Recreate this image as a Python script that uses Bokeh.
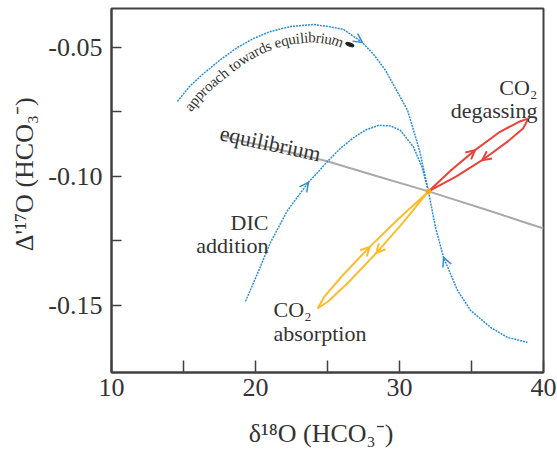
import math
from bokeh.plotting import figure
from bokeh.models import Range1d, FixedTicker, Arrow, OpenHead
from bokeh.core.properties import value
from bokeh.embed import file_html
from bokeh.resources import INLINE

# ---------------- data ----------------
x_major_ticks = [10, 20, 30, 40]
x_minor_ticks = [15, 25, 35]
y_major_ticks = [-0.15, -0.10, -0.05]
y_minor_ticks = [-0.125, -0.075]
y_tick_labels = ["-0.15", "-0.10", "-0.05"]

# equilibrium line
eq_x = [17.69, 21.04, 24.98, 28.51, 32.01, 35.97, 40.0]
eq_y = [-0.0845, -0.0888, -0.0941, -0.1000, -0.1058, -0.1128, -0.1202]

# approach towards equilibrium (upper dotted arc and lower right branch)
approach_x = [14.58, 15.42, 16.39, 17.57, 18.75, 19.86, 21.04, 22.43, 24.03, 25.07,
              26.11, 27.43, 28.26, 29.03, 30.56, 31.39, 32.01, 32.50, 33.06, 34.03,
              34.93, 36.32, 37.50, 38.89]
approach_y = [-0.0709, -0.0651, -0.0601, -0.0547, -0.0500, -0.0465, -0.0438, -0.0419, -0.0411, -0.0419,
              -0.0430, -0.0481, -0.0531, -0.0589, -0.0744, -0.0899, -0.1058, -0.1198, -0.1314, -0.1442,
              -0.1519, -0.1585, -0.1624, -0.1643]

# DIC addition arc
dic_x = [19.31, 20.14, 21.04, 22.22, 23.68, 25.07, 25.90, 26.74, 27.64, 28.54, 29.38, 30.07,
         30.97, 31.56, 32.01]
dic_y = [-0.1484, -0.1376, -0.1256, -0.1132, -0.1023, -0.0938, -0.0891, -0.0853, -0.0820, -0.0802,
         -0.0804, -0.0822, -0.0886, -0.0963, -0.1058]

# CO2 degassing loop
degas_x = [32.01, 33.60, 35.25, 36.98, 38.26, 38.96, 38.58, 37.48, 35.74, 33.92, 32.01]
degas_y = [-0.1058, -0.0975, -0.0898, -0.0827, -0.0789, -0.0775, -0.0814, -0.0866, -0.0937, -0.1001, -0.1058]

# CO2 absorption loop
absorb_x = [32.01, 30.24, 28.39, 26.46, 25.08, 24.31, 24.77, 26.01, 27.93, 29.94, 32.01]
absorb_y = [-0.1058, -0.1179, -0.1297, -0.1410, -0.1483, -0.1512, -0.1467, -0.1386, -0.1273, -0.1164, -0.1058]

# arrows: (curve, from index, to index)
arrow_specs = [("approach", 10, 11), ("approach", 19, 18), ("dic", 3, 4),
               ("degas", 1, 2), ("degas", 7, 8), ("absorb", 7, 8), ("absorb", 1, 2)]

# text labels
labels_text = ["equilibrium", "CO\u2082", "degassing", "DIC", "addition", "CO\u2082", "absorption"]
labels_x = [21.04, 39.58, 39.58, 20.90, 20.90, 21.25, 21.25]
labels_y = [-0.0872, -0.0655, -0.0744, -0.1178, -0.1267, -0.1516, -0.1608]
labels_align = ["center", "right", "right", "right", "right", "left", "left"]
labels_angle = [-0.21, 0, 0, 0, 0, 0, 0]

curved_text = "approach towards equilibrium"
blob_x = [26.55]
blob_y = [-0.0489]

x_title = "\u03b4\u00b9\u2078O (HCO\u2083\u207b)"
y_title = "\u0394'\u00b9\u2077O (HCO\u2083\u207b)"

# ---------------- layout ----------------
FW, FH = 557, 452
L, R, T, B = 111, 14, 8, 80
W = FW - L - R
H = FH - T - B
X0, X1 = 10, 40
Y0, Y1 = -0.1760, -0.0349

BLUE = "#2a8ed6"
RED = "#e8443a"
YEL = "#fbbd2e"
GRAY = "#a9a9a9"
TXT = "#333333"
FONT = "Liberation Serif"
NB = "\u00a0"

p = figure(width=FW, height=FH, output_backend="svg", toolbar_location=None,
           x_range=Range1d(X0, X1), y_range=Range1d(Y0, Y1),
           min_border_left=L, min_border_right=R, min_border_top=T, min_border_bottom=B)
p.xgrid.visible = False
p.ygrid.visible = False
p.outline_line_color = "#404040"
p.outline_line_width = 2
p.background_fill_color = "white"
p.border_fill_color = "white"

for ax in (p.xaxis[0], p.yaxis[0]):
    ax.axis_line_color = "#404040"
    ax.axis_line_width = 2
    ax.major_tick_line_color = "#404040"
    ax.minor_tick_line_color = "#404040"
    ax.major_tick_line_width = 1.5
    ax.minor_tick_line_width = 1.5
    ax.major_tick_out = 0
    ax.minor_tick_out = 0
    ax.major_label_text_font = FONT
    ax.major_label_text_font_size = "26px"
    ax.major_label_text_color = TXT
    ax.axis_label_text_font = FONT
    ax.axis_label_text_font_size = "26px"
    ax.axis_label_text_font_style = "normal"
    ax.axis_label_text_color = TXT

p.xaxis.ticker = FixedTicker(ticks=x_major_ticks, minor_ticks=x_minor_ticks)
p.yaxis.ticker = FixedTicker(ticks=y_major_ticks, minor_ticks=y_minor_ticks)
p.yaxis.major_label_overrides = {t: s for t, s in zip(y_major_ticks, y_tick_labels)}
p.xaxis.major_tick_in = 12
p.xaxis.minor_tick_in = 12
p.yaxis.major_tick_in = 10
p.yaxis.minor_tick_in = 10
p.xaxis.major_label_standoff = 6
p.yaxis.major_label_standoff = 9
# non-breaking spaces nudge the centred titles to where the reference has them
p.xaxis.axis_label = x_title + NB * 2
p.xaxis.axis_label_standoff = 20
p.yaxis.axis_label = NB * 5 + y_title
p.yaxis.axis_label_standoff = 6

# ---------------- curves ----------------
p.line(eq_x, eq_y, line_color=GRAY, line_width=2)
p.line(approach_x, approach_y, line_color=BLUE, line_width=1.5, line_dash="2 1")
p.line(dic_x, dic_y, line_color=BLUE, line_width=1.5, line_dash="2 1")
p.line(degas_x, degas_y, line_color=RED, line_width=2)
p.line(absorb_x, absorb_y, line_color=YEL, line_width=2)
p.scatter([degas_x[0]], [degas_y[0]], size=5, color="#f9a825")

curves = {"approach": (approach_x, approach_y, BLUE, 1.5),
          "dic": (dic_x, dic_y, BLUE, 1.5),
          "degas": (degas_x, degas_y, RED, 2),
          "absorb": (absorb_x, absorb_y, YEL, 2)}
for name, i0, i1 in arrow_specs:
    cx, cy, col, lw = curves[name]
    p.add_layout(Arrow(x_start=cx[i0], y_start=cy[i0], x_end=cx[i1], y_end=cy[i1],
                       line_alpha=0,
                       end=OpenHead(size=9, line_color=col, line_width=lw)))

# small black mark
p.ellipse(blob_x, blob_y, width=9, height=3.5, width_units="screen", height_units="screen",
          angle=-0.35, color="#222222")

# ---------------- texts ----------------
for t, x, y, al, an in zip(labels_text, labels_x, labels_y, labels_align, labels_angle):
    p.text([x], [y], text=[t], angle=an, text_font=value(FONT), text_font_size="22px",
           text_color=TXT, text_align=al, text_baseline="alphabetic")

# curved label along the approach arc
def to_sx(x):
    return L + (x - X0) / (X1 - X0) * W

def to_sy(y):
    return T + (Y1 - y) / (Y1 - Y0) * H

def to_dx(px):
    return X0 + (px - L) / W * (X1 - X0)

def to_dy(py):
    return Y1 - (py - T) / H * (Y1 - Y0)

path_sx = [to_sx(v) for v in approach_x[:14]]
path_sy = [to_sy(v) for v in approach_y[:14]]
pts = []
for i in range(len(path_sx) - 1):
    ax_, ay_, bx_, by_ = path_sx[i], path_sy[i], path_sx[i + 1], path_sy[i + 1]
    m = max(1, int(math.hypot(bx_ - ax_, by_ - ay_) / 0.5))
    for k in range(m):
        pts.append((ax_ + (bx_ - ax_) * k / m, ay_ + (by_ - ay_) * k / m))
pts.append((path_sx[-1], path_sy[-1]))

OFF = 12.5
win = 12
offp = []
for j in range(len(pts)):
    a = pts[max(0, j - win)]
    b = pts[min(len(pts) - 1, j + win)]
    tx, ty = b[0] - a[0], b[1] - a[1]
    n = math.hypot(tx, ty)
    tx, ty = tx / n, ty / n
    offp.append((pts[j][0] - ty * OFF, pts[j][1] + tx * OFF, tx, ty))
cum = [0.0]
for j in range(1, len(offp)):
    cum.append(cum[-1] + math.hypot(offp[j][0] - offp[j - 1][0], offp[j][1] - offp[j - 1][1]))

def nearest_s(qx, qy):
    best = min(range(len(offp)), key=lambda j: (offp[j][0] - qx) ** 2 + (offp[j][1] - qy) ** 2)
    return cum[best]

CW = {"a": .444, "p": .5, "r": .333, "o": .5, "c": .444, "h": .5, " ": .25, "t": .278,
      "w": .722, "d": .5, "s": .389, "e": .444, "q": .5, "u": .5, "i": .278, "l": .278,
      "b": .5, "m": .778}
FS = 15
s_a = nearest_s(184, 114)
s_b = nearest_s(341, 45)
raw = [CW.get(c, .5) for c in curved_text]
scale = (s_b - s_a) / sum(raw)

def at(s):
    for j in range(len(cum)):
        if cum[j] >= s:
            return offp[j]
    return offp[-1]

cx_l, cy_l, ang_l, ch_l = [], [], [], []
acc = s_a
for c, wr in zip(curved_text, raw):
    w = wr * scale
    px, py, tx, ty = at(acc + w / 2)
    acc += w
    if c == " ":
        continue
    cx_l.append(to_dx(px))
    cy_l.append(to_dy(py))
    ang_l.append(math.atan2(-ty, tx))
    ch_l.append(c)
p.text(cx_l, cy_l, text=ch_l, angle=ang_l, text_font=value(FONT), text_font_size="%dpx" % FS,
       text_color=TXT, text_align="center", text_baseline="alphabetic")

open("out.html", "w").write(file_html(p, INLINE))
